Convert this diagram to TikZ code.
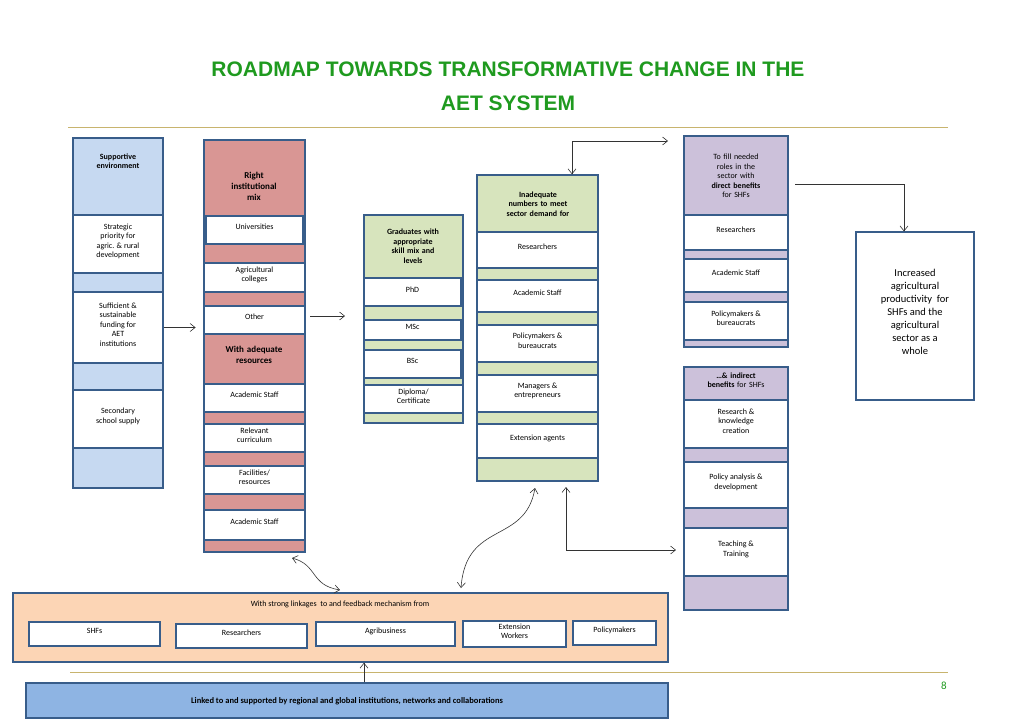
\documentclass[tikz,border=0pt]{standalone}
\usepackage{fontspec}
\setmainfont{Carlito}
\newfontfamily\titlefont{Liberation Sans}
\usetikzlibrary{fit, arrows.meta}
\definecolor{edge}{HTML}{385D8A}
\definecolor{skyfill}{HTML}{C6D9F1}
\definecolor{rosefill}{HTML}{D99694}
\definecolor{sagefill}{HTML}{D7E4BD}
\definecolor{lilacfill}{HTML}{CCC1DA}
\definecolor{peachfill}{HTML}{FCD5B5}
\definecolor{deepsky}{HTML}{8EB4E3}
\definecolor{titlegreen}{HTML}{1F9A1F}
\definecolor{rulegold}{HTML}{C8B46E}
\begin{document}
\begin{tikzpicture}[x=1pt, y=-1pt, font=\fontsize{8}{9.5}\selectfont,
  >={Straight Barb[length=5pt, width=8pt]},
  col/.style = {draw = edge, line width = 1.4pt, inner sep = 0pt},
  cell/.style = {draw = edge, line width = 1.2pt, fill = white, inner sep = 0pt,
    align = center, text width = #1},
  cell/.default = 80pt,
  head/.style = {inner sep = 0pt, align = center, font = \fontsize{8}{9.5}\selectfont\bfseries, text width = #1},
  head/.default = 85pt,
  link/.style = {->, line width = .6pt, draw = black!80}]
  \useasboundingbox (0,0) rectangle (1024,724);
  % title and rules
  \node [font = \titlefont\fontsize{21}{34}\selectfont\bfseries, text = titlegreen, align = center] (title) at (508,86)
    {ROADMAP TOWARDS TRANSFORMATIVE CHANGE IN THE\\AET SYSTEM};
  \draw [rulegold, line width = 1pt] (68,127) -- (948,127);
  \draw [rulegold, line width = 1pt] (70,672) -- (948,672);
  \node [text = titlegreen, font = \fontsize{11}{12}\selectfont] (page) at (944,686) {8};
  % supportive environment
  \node [col, fill = skyfill, fit = {(73,138)(163,488)}] (env) {};
  \node [head] (envh) at (118,161) {Supportive\\environment};
  \node [cell, fit = {(73,215)(163,273)}] (strat) {Strategic\\priority for\\agric. \& rural\\development};
  \node [cell, fit = {(73,292)(163,363)}] (fund) {Sufficient \&\\sustainable\\funding for\\AET\\institutions};
  \node [cell, fit = {(73,390)(163,448)}] (school) {Secondary\\school supply};
  % institutional mix
  \node [col, fill = rosefill, fit = {(204,140)(305,552)}] (mix) {};
  \node [head, font = \fontsize{9}{11}\selectfont\bfseries] (mixh) at (254,186) {Right\\institutional\\mix};
  \node [cell, fit = {(206,216)(303,244)}] (univ) {Universities};
  \node [cell, fit = {(204,263)(305,292)}] (coll) {Agricultural\\colleges};
  \node [cell, fit = {(204,306)(305,334)}] (other) {Other};
  \node [head, font = \fontsize{9}{11}\selectfont\bfseries] (resh) at (254,355) {With adequate\\resources};
  \node [cell, fit = {(204,384)(305,412)}] (staffa) {Academic Staff};
  \node [cell, fit = {(204,424)(305,452)}] (curr) {Relevant\\curriculum};
  \node [cell, fit = {(204,466)(305,494)}] (facil) {Facilities/\\resources};
  \node [cell, fit = {(204,510)(305,540)}] (staffb) {Academic Staff};
  % graduates
  \node [col, fill = sagefill, fit = {(364,215)(463,423)}] (grad) {};
  \node [head] (gradh) at (413,246) {Graduates with\\appropriate\\skill mix and\\levels};
  \node [cell, fit = {(364,278)(461,306)}] (phd) {PhD};
  \node [cell, fit = {(364,320)(461,340)}] (msc) {MSc};
  \node [cell, fit = {(364,350)(461,378)}] (bsc) {BSc};
  \node [cell, fit = {(364,385)(463,413)}] (dipl) {Diploma/\\Certificate};
  % demand
  \node [col, fill = sagefill, fit = {(477,175)(598,481)}] (need) {};
  \node [head, text width = 110pt] (needh) at (538,204) {Inadequate\\numbers to meet\\sector demand for};
  \node [cell, fit = {(477,232)(598,268)}] (rsch) {Researchers};
  \node [cell, fit = {(477,280)(598,312)}] (staffc) {Academic Staff};
  \node [cell, fit = {(477,325)(598,362)}] (polc) {Policymakers \&\\bureaucrats};
  \node [cell, fit = {(477,375)(598,412)}] (mgr) {Managers \&\\entrepreneurs};
  \node [cell, fit = {(477,424)(598,458)}] (ext) {Extension agents};
  % direct benefits
  \node [col, fill = lilacfill, fit = {(684,136)(788,347)}] (direct) {};
  \node [inner sep = 0pt, align = center, text width = 95pt] (directh) at (736,176)
    {To fill needed\\roles in the\\sector with\\\textbf{direct benefits}\\for SHFs};
  \node [cell, fit = {(684,215)(788,250)}] (rschd) {Researchers};
  \node [cell, fit = {(684,259)(788,292)}] (staffd) {Academic Staff};
  \node [cell, fit = {(684,302)(788,340)}] (pold) {Policymakers \&\\bureaucrats};
  % indirect benefits
  \node [col, fill = lilacfill, fit = {(684,367)(788,610)}] (indirect) {};
  \node [inner sep = 0pt, align = center, text width = 95pt] (indirecth) at (736,380)
    {\textbf{…\& indirect}\\\textbf{benefits} for SHFs};
  \node [cell, fit = {(684,400)(788,448)}] (know) {Research \&\\knowledge\\creation};
  \node [cell, fit = {(684,462)(788,508)}] (policy) {Policy analysis \&\\development};
  \node [cell, fit = {(684,528)(788,576)}] (teach) {Teaching \&\\Training};
  % outcome
  \node [cell, text width = 110pt, font = \fontsize{10.5}{13}\selectfont, fit = {(856,232)(974,400)}] (gain)
    {Increased\\agricultural\\productivity\ \ for\\SHFs and the\\agricultural\\sector as a\\whole};
  % linkages
  \node [col, fill = peachfill, fit = {(13,593)(668,662)}] (links) {};
  \node [inner sep = 0pt] (linksh) at (340,604) {With strong linkages\ \ to and feedback mechanism from};
  \node [cell, text width = 120pt, fit = {(29,622)(160,646)}] (shf) {SHFs};
  \node [cell, text width = 120pt, fit = {(176,624)(307,648)}] (rsche) {Researchers};
  \node [cell, text width = 120pt, fit = {(316,622)(455,646)}] (agri) {Agribusiness};
  \node [cell, text width = 95pt, fit = {(463,621)(566,647)}] (extw) {Extension\\Workers};
  \node [cell, text width = 80pt, fit = {(573,621)(656,645)}] (polw) {Policymakers};
  \node [col, fill = deepsky, fit = {(26,683)(668,718)}] (global) {};
  \node [font = \fontsize{8.5}{10}\selectfont\bfseries] (globalt) at (347,701)
    {Linked to and supported by regional and global institutions, networks and collaborations};
  % connectors
  \coordinate (fork) at (572,141);
  \draw [link] (fund.east) -- ++(32,0);
  \draw [link] (310,316) -- ++(35,0);
  \draw [link] (fork) -- (need.north -| fork);
  \draw [link] (fork) -- (668,141);
  \draw [link] (795,184) -| (gain.north -| 904,0);
  \draw [link, <->] (292,558) .. controls (318,565) and (310,585) .. (340,590);
  \draw [link, <->] (461,588) .. controls (466,520) and (525,545) .. (535,488);
  \draw [link, <->] (566,487) |- (676,550);
  \draw [link] (global.north -| 364,0) -- (links.south -| 364,0);
\end{tikzpicture}
\end{document}
